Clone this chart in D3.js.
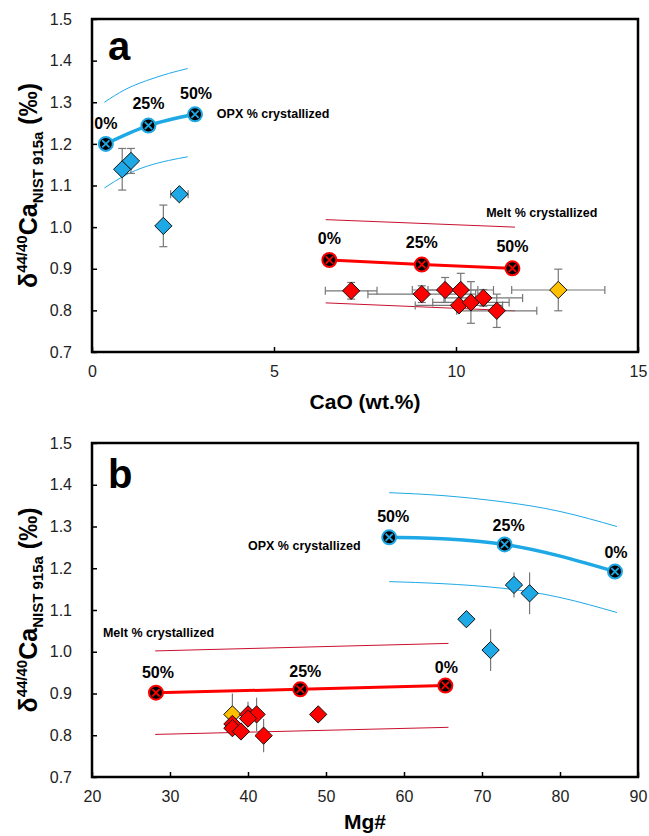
<!DOCTYPE html>
<html>
<head>
<meta charset="utf-8">
<script src="https://cdn.jsdelivr.net/npm/d3@7"></script>
<style>
  body { margin: 0; background: #fff; }
  text { font-family: "Liberation Sans", Arial, sans-serif; }
</style>
</head>
<body>
<div id="chart"></div>
<script>
// ---- shared ticks / labels ----
const yTicks = [0.7, 0.8, 0.9, 1.0, 1.1, 1.2, 1.3, 1.4, 1.5];
const xTicksA = [0, 5, 10, 15];
const xTicksB = [20, 30, 40, 50, 60, 70, 80, 90];

// ---- panel a: CaO vs d44/40Ca ----
const opxModelA_x = [0.38, 1.55, 2.83];
const opxModelA_y = [1.200, 1.244, 1.271];
const opxModelA_lab = ["0%", "25%", "50%"];
const opxUpperA_x = [0.34, 0.9, 1.5, 2.1, 2.63];
const opxUpperA_y = [1.300, 1.330, 1.352, 1.369, 1.381];
const opxLowerA_x = [0.34, 0.9, 1.5, 2.1, 2.63];
const opxLowerA_y = [1.094, 1.124, 1.146, 1.160, 1.169];

const meltModelA_x = [6.52, 9.06, 11.55];
const meltModelA_y = [0.921, 0.910, 0.901];
const meltModelA_lab = ["0%", "25%", "50%"];
const meltUpperA_x = [6.42, 11.62];
const meltUpperA_y = [1.018, 1.000];
const meltLowerA_x = [6.42, 11.62];
const meltLowerA_y = [0.818, 0.799];

const opxSampA_x = [0.83, 1.07, 1.96, 2.40];
const opxSampA_y = [1.139, 1.159, 1.003, 1.079];
const opxSampA_ex = [0, 0, 0, 0.24];
const opxSampA_ey = [0.05, 0.03, 0.05, 0];

const meltSampA_x = [7.12, 9.06, 9.70, 10.13, 10.08, 10.41, 10.75, 11.12];
const meltSampA_y = [0.847, 0.839, 0.849, 0.849, 0.812, 0.819, 0.830, 0.799];
const meltSampA_ex = [0.71, 1.48, 0.9, 0.9, 1.2, 1.05, 1.08, 1.1];
const meltSampA_ey = [0.02, 0.02, 0.03, 0.04, 0, 0.05, 0.02, 0.04];

const yelSampA_x = [12.81];
const yelSampA_y = [0.849];
const yelSampA_ex = [1.28];
const yelSampA_ey = [0.05];

// ---- panel b: Mg# vs d44/40Ca ----
const opxModelB_x = [58.1, 72.9, 87.05];
const opxModelB_y = [1.274, 1.257, 1.192];
const opxModelB_lab = ["50%", "25%", "0%"];
const opxUpperB_x = [58.1, 65, 72.7, 80, 87.3];
const opxUpperB_y = [1.381, 1.374, 1.359, 1.336, 1.300];
const opxLowerB_x = [58.1, 65, 72.7, 80, 87.3];
const opxLowerB_y = [1.168, 1.163, 1.152, 1.130, 1.094];

const meltModelB_x = [28.2, 46.7, 65.3];
const meltModelB_y = [0.902, 0.910, 0.919];
const meltModelB_lab = ["50%", "25%", "0%"];
const meltUpperB_x = [28.1, 65.7];
const meltUpperB_y = [1.002, 1.020];
const meltLowerB_x = [28.1, 65.7];
const meltLowerB_y = [0.802, 0.819];

const opxSampB_x = [74.1, 76.1, 68.0, 71.1];
const opxSampB_y = [1.160, 1.140, 1.078, 1.004];
const opxSampB_ey = [0.03, 0.05, 0, 0.05];

const yelSampB_x = [38.0];
const yelSampB_y = [0.850];
const yelSampB_ey = [0.05];

const meltSampB_x = [49.0, 40.0, 41.1, 40.0, 38.0, 38.0, 39.1, 42.0];
const meltSampB_y = [0.850, 0.850, 0.850, 0.840, 0.827, 0.817, 0.809, 0.799];
const meltSampB_ey = [0, 0.03, 0.04, 0.02, 0, 0, 0, 0.04];

const BLUE = "#1ea9e6", RED = "#ff0000", YEL = "#ffc000", THINRED = "#c8102e";

const svg = d3.select("#chart").append("svg").attr("width", 649).attr("height", 836);

const zip = (xs, ys) => xs.map((x, i) => [x, ys[i]]);

function panel(cfg) {
    const x = d3.scaleLinear().domain(cfg.xDomain).range([92, 638]);
    const y = d3.scaleLinear().domain([0.7, 1.5]).range([cfg.bottom, cfg.top]);
    const g = svg.append("g");

    // axes with inward ticks
    g.append("g").attr("transform", `translate(0,${cfg.bottom})`)
        .call(d3.axisBottom(x).tickValues(cfg.xTicks).tickSize(-5).tickPadding(14).tickFormat(d3.format("d")))
        .call(a => a.select(".domain").remove())
        .call(a => a.selectAll("line").attr("stroke", "#000").attr("stroke-width", 1.5))
        .call(a => a.selectAll("text").attr("font-size", 16).attr("fill", "#222").attr("font-family", "Liberation Sans, Arial"));
    g.append("g").attr("transform", "translate(92,0)")
        .call(d3.axisLeft(y).tickValues(yTicks).tickSize(-5).tickPadding(20).tickFormat(d3.format(".1f")))
        .call(a => a.select(".domain").remove())
        .call(a => a.selectAll("line").attr("stroke", "#000").attr("stroke-width", 1.5))
        .call(a => a.selectAll("text").attr("font-size", 16).attr("fill", "#222").attr("font-family", "Liberation Sans, Arial"));

    g.append("rect").attr("x", 92).attr("y", cfg.top)
        .attr("width", 546).attr("height", cfg.bottom - cfg.top)
        .attr("fill", "none").attr("stroke", "#000").attr("stroke-width", 2.5);

    // panel letter
    g.append("text").attr("x", 108).attr("y", cfg.top + cfg.letterDy)
        .attr("font-size", 40).attr("font-weight", "bold").text(cfg.letter);

    // axis titles
    g.append("text").attr("x", 365).attr("y", cfg.bottom + cfg.xTitleDy).attr("text-anchor", "middle")
        .attr("font-size", 21).attr("font-weight", "bold").text(cfg.xTitle);
    const yt = g.append("text")
        .attr("transform", `translate(37,${(cfg.top + cfg.bottom) / 2}) rotate(-90)`)
        .attr("text-anchor", "middle").attr("font-size", 25).attr("font-weight", "bold");
    yt.append("tspan").text("δ");
    yt.append("tspan").attr("font-size", 15).attr("dy", -10).text("44/40");
    yt.append("tspan").attr("dy", 10).text("Ca");
    yt.append("tspan").attr("font-size", 15).attr("dy", 6).text("NIST 915a");
    yt.append("tspan").attr("dy", -6).text(" (‰)");

    const line = d3.line().x(d => x(d[0])).y(d => y(d[1])).curve(d3.curveNatural);

    // envelope lines
    cfg.thin.forEach(t => {
        g.append("path").attr("d", line(t.pts)).attr("fill", "none")
            .attr("stroke", t.color).attr("stroke-width", 1);
    });

    // error bars
    cfg.samples.forEach(s => {
        s.pts.forEach((p, i) => {
            const ex = s.ex ? s.ex[i] : 0, ey = s.ey ? s.ey[i] : 0;
            const cap = s.caps ? 4 : 0;
            if (ex > 0) {
                g.append("line").attr("x1", x(p[0] - ex)).attr("x2", x(p[0] + ex))
                    .attr("y1", y(p[1])).attr("y2", y(p[1])).attr("stroke", "#777").attr("stroke-width", 1.2);
                [p[0] - ex, p[0] + ex].forEach(v => g.append("line")
                    .attr("x1", x(v)).attr("x2", x(v)).attr("y1", y(p[1]) - cap).attr("y2", y(p[1]) + cap)
                    .attr("stroke", "#777").attr("stroke-width", 1.2));
            }
            if (ey > 0) {
                g.append("line").attr("x1", x(p[0])).attr("x2", x(p[0]))
                    .attr("y1", y(p[1] - ey)).attr("y2", y(p[1] + ey)).attr("stroke", "#777").attr("stroke-width", 1.2);
                [p[1] - ey, p[1] + ey].forEach(v => g.append("line")
                    .attr("x1", x(p[0]) - cap).attr("x2", x(p[0]) + cap).attr("y1", y(v)).attr("y2", y(v))
                    .attr("stroke", "#777").attr("stroke-width", 1.2));
            }
        });
    });

    // diamonds
    const diamond = d3.symbol().type(d3.symbolDiamond2).size(190);
    cfg.samples.forEach(s => {
        g.selectAll(null).data(s.pts).enter().append("path")
            .attr("d", diamond)
            .attr("transform", d => `translate(${x(d[0])},${y(d[1])})`)
            .attr("fill", s.color).attr("stroke", "#111").attr("stroke-width", 1);
    });

    // model curves with crossed-circle markers
    cfg.models.forEach(m => {
        g.append("path").attr("d", line(m.pts)).attr("fill", "none")
            .attr("stroke", m.color).attr("stroke-width", m.width);
        m.pts.forEach((p, i) => {
            const cx = x(p[0]), cy = y(p[1]);
            g.append("circle").attr("cx", cx).attr("cy", cy).attr("r", 7)
                .attr("fill", "#000").attr("stroke", m.color).attr("stroke-width", 2);
            g.append("path").attr("d", `M${cx - 3.6},${cy - 3.6}L${cx + 3.6},${cy + 3.6}M${cx - 3.6},${cy + 3.6}L${cx + 3.6},${cy - 3.6}`)
                .attr("stroke", m.color).attr("stroke-width", 1.8);
            g.append("text").attr("x", cx + m.labDx[i]).attr("y", cy + m.labDy[i])
                .attr("text-anchor", "middle").attr("font-size", 16).attr("font-weight", "bold")
                .text(m.labels[i]);
        });
        g.append("text").attr("x", x(m.title[0])).attr("y", y(m.title[1]))
            .attr("font-size", 12.5).attr("font-weight", "bold").text(m.title[2]);
    });
}

panel({
    top: 19, bottom: 352, xDomain: [0, 15], xTicks: xTicksA, letter: "a", letterDy: 41,
    xTitle: "CaO (wt.%)", xTitleDy: 57,
    thin: [
        { pts: zip(opxUpperA_x, opxUpperA_y), color: BLUE },
        { pts: zip(opxLowerA_x, opxLowerA_y), color: BLUE },
        { pts: zip(meltUpperA_x, meltUpperA_y), color: THINRED },
        { pts: zip(meltLowerA_x, meltLowerA_y), color: THINRED }
    ],
    samples: [
        { pts: zip(opxSampA_x, opxSampA_y), ex: opxSampA_ex, ey: opxSampA_ey, color: BLUE, caps: true },
        { pts: zip(meltSampA_x, meltSampA_y), ex: meltSampA_ex, ey: meltSampA_ey, color: RED, caps: true },
        { pts: zip(yelSampA_x, yelSampA_y), ex: yelSampA_ex, ey: yelSampA_ey, color: YEL, caps: true }
    ],
    models: [
        { pts: zip(opxModelA_x, opxModelA_y), labels: opxModelA_lab, color: BLUE, width: 3.5,
          labDx: [0, 0, 1], labDy: [-15, -17, -15], title: [3.43, 1.262, "OPX % crystallized"] },
        { pts: zip(meltModelA_x, meltModelA_y), labels: meltModelA_lab, color: RED, width: 3,
          labDx: [0, 0, 0], labDy: [-16, -17, -16], title: [10.83, 1.025, "Melt % crystallized"] }
    ]
});

panel({
    top: 443, bottom: 777, xDomain: [20, 90], xTicks: xTicksB, letter: "b", letterDy: 45,
    xTitle: "Mg#", xTitleDy: 52,
    thin: [
        { pts: zip(opxUpperB_x, opxUpperB_y), color: BLUE },
        { pts: zip(opxLowerB_x, opxLowerB_y), color: BLUE },
        { pts: zip(meltUpperB_x, meltUpperB_y), color: THINRED },
        { pts: zip(meltLowerB_x, meltLowerB_y), color: THINRED }
    ],
    samples: [
        { pts: zip(opxSampB_x, opxSampB_y), ey: opxSampB_ey, color: BLUE, caps: false },
        { pts: zip(yelSampB_x, yelSampB_y), ey: yelSampB_ey, color: YEL, caps: false },
        { pts: zip(meltSampB_x, meltSampB_y), ey: meltSampB_ey, color: RED, caps: false }
    ],
    models: [
        { pts: zip(opxModelB_x, opxModelB_y), labels: opxModelB_lab, color: BLUE, width: 3.5,
          labDx: [4, 4, 1], labDy: [-15, -13, -14], title: [40.0, 1.244, "OPX % crystallized"] },
        { pts: zip(meltModelB_x, meltModelB_y), labels: meltModelB_lab, color: RED, width: 3,
          labDx: [2, 5, 1], labDy: [-15, -12, -13], title: [21.4, 1.036, "Melt % crystallized"] }
    ]
});
</script>
</body>
</html>
